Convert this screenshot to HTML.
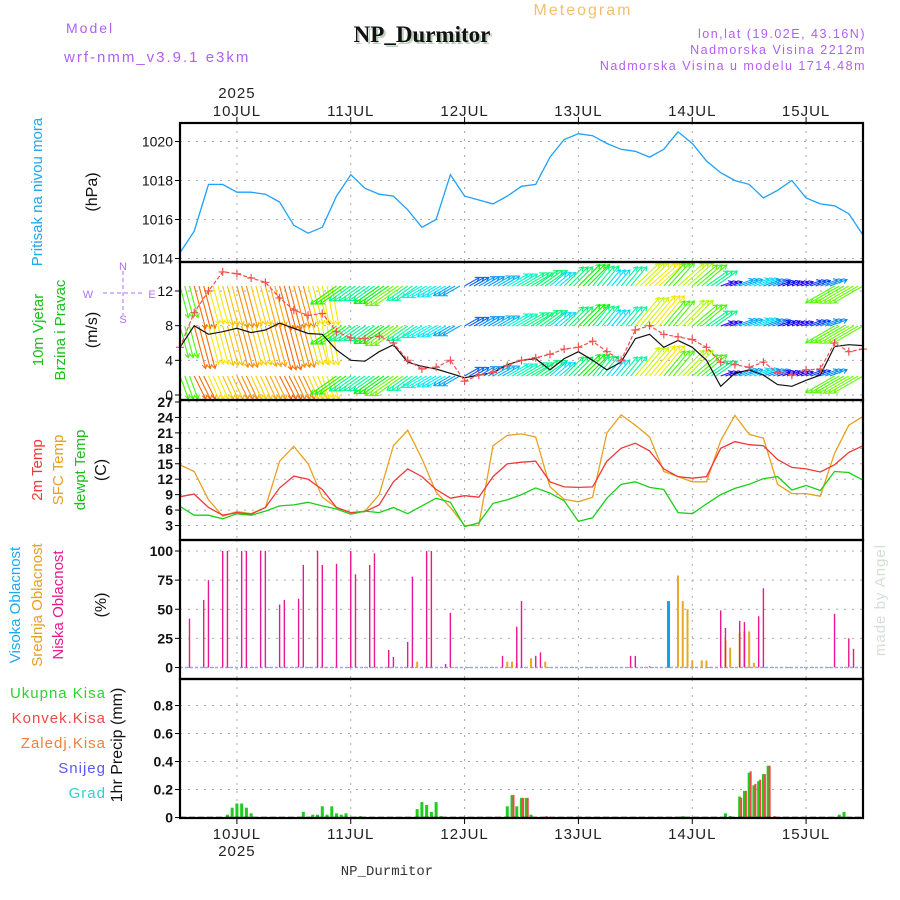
<!DOCTYPE html>
<html><head><meta charset="utf-8"><style>
html,body{margin:0;padding:0;background:#fff}
svg{display:block;font-family:"Liberation Sans",sans-serif}
</style></head><body>
<svg id="c" width="900" height="900" viewBox="0 0 900 900">
<text x="66" y="33" fill="#b060f0" font-size="14" letter-spacing="2">Model</text>
<text x="64" y="62" fill="#b060f0" font-size="15" letter-spacing="2">wrf-nmm_v3.9.1 e3km</text>
<text x="424" y="44" text-anchor="middle" fill="#bcd0bc" font-size="23" font-weight="bold" font-family="Liberation Serif,serif">NP_Durmitor</text>
<text x="422" y="42" text-anchor="middle" fill="#111" font-size="23" font-weight="bold" font-family="Liberation Serif,serif">NP_Durmitor</text>
<text x="583" y="15" text-anchor="middle" fill="#f0c070" font-size="16" letter-spacing="2">Meteogram</text>
<text x="866" y="38" text-anchor="end" fill="#b060f0" font-size="12.5" letter-spacing="1.5">lon,lat (19.02E, 43.16N)</text>
<text x="866" y="54" text-anchor="end" fill="#b060f0" font-size="12.5" letter-spacing="1.5">Nadmorska Visina 2212m</text>
<text x="866" y="70" text-anchor="end" fill="#b060f0" font-size="12.5" letter-spacing="1.5">Nadmorska Visina u modelu 1714.48m</text>
<text x="387" y="875" text-anchor="middle" fill="#333" font-size="14" font-family="Liberation Mono,monospace">NP_Durmitor</text>
<text transform="translate(885,600) rotate(-90)" text-anchor="middle" fill="#d4e0d4" font-size="15" letter-spacing="1">made by Angel</text>
<g id="g"></g>
</svg>
<script>
// ---- data (3-hourly grid starting 9JUL 12UTC) ----
const dayLabels=["10JUL","11JUL","12JUL","13JUL","14JUL","15JUL"];
const pressure=[1014.3,1015.4,1017.8,1017.8,1017.4,1017.4,1017.3,1016.9,1015.7,1015.3,1015.6,1017.2,1018.3,1017.6,1017.3,1017.2,1016.5,1015.6,1016.0,1018.3,1017.2,1017.0,1016.8,1017.2,1017.7,1017.8,1019.2,1020.1,1020.4,1020.3,1019.9,1019.6,1019.5,1019.2,1019.6,1020.5,1019.9,1019.0,1018.4,1018.0,1017.8,1017.1,1017.5,1018.0,1017.1,1016.8,1016.7,1016.3,1015.2];
const windSpeed=[5.5,8.0,7.0,7.3,7.7,7.2,7.5,8.3,7.7,7.1,7.0,5.2,4.0,3.9,5.0,5.8,3.8,3.3,3.0,2.5,2.0,2.3,2.6,3.5,4.0,4.2,2.9,4.2,5.0,4.0,2.9,3.8,6.5,7.0,5.5,6.3,5.5,4.0,1.0,2.5,2.9,2.3,1.2,1.0,1.7,2.3,5.6,5.8,5.7];
const windGust=[5.5,9.5,12,14.2,14,13.5,13,11.2,9.8,9.2,9.4,7.3,6.6,6.5,6.8,6.0,4.0,3.0,3.2,4.0,1.6,2.3,2.6,3.4,4.0,4.3,4.7,5.3,5.5,6.2,5.0,4.0,7.5,8.0,7.0,6.7,6.4,5.5,3.8,3.5,3.2,3.8,2.6,2.3,2.9,3.0,6.0,5.0,5.3];
const windDir=[165,165,165,165,165,165,165,165,165,165,170,235,235,235,235,235,235,240,240,240,60,60,60,60,60,55,50,45,45,40,40,40,40,40,40,45,50,55,70,70,70,70,70,70,70,70,240,240,240];
const temp2m=[8.6,9.1,6.5,5.0,5.5,5.2,6.5,10.3,12.6,12.0,10.0,6.5,5.5,5.7,7.0,11.5,14.0,12.5,10.0,8.3,8.8,8.5,12.5,15.0,15.3,15.5,11.5,10.5,10.4,10.5,15.5,18.0,19.0,17.5,14.0,12.5,12.2,12.5,18.0,19.3,18.7,18.5,15.8,14.3,14.0,13.4,14.8,17.2,18.5];
const tempSfc=[14.8,13.5,8.0,4.8,5.7,5.3,6.5,15.5,18.4,15.0,8.5,6.5,5.5,5.8,9.0,18.5,21.5,16.0,9.5,6.5,3.0,3.0,18.5,20.5,20.8,20.2,10.5,8.1,7.6,8.5,21.0,24.5,22.5,20.2,13.5,12.5,11.5,11.5,19.5,24.4,20.7,20.0,11.0,9.2,9.2,8.7,17.0,22.5,24.2];
const tempDew=[6.7,5.0,5.0,4.3,5.3,5.0,5.8,6.8,7.0,7.5,6.8,6.2,5.2,5.8,5.5,6.5,5.3,6.8,8.3,7.5,2.8,3.5,7.3,8.0,9.0,10.3,9.3,7.8,3.8,4.5,8.3,11.0,11.5,10.4,10.0,5.5,5.3,7.2,9.0,10.2,11.0,12.1,12.5,9.9,10.8,9.8,13.5,13.3,11.8];
const lowHours=[2,5,6,9,10,13,14,17,18,21,22,25,26,29,30,33,36,37,40,41,44,45,48,49,52,53,56,57,68,71,72,75,76,95,96,99,114,115,118,119,122,123,138,141,142];
const lowCloud=[42,58,75,100,100,100,100,100,100,54,58,59,88,100,88,89,100,80,88,98,15,9,22,78,100,100,3,47,10,35,57,10,13,10,10,1,49,34,40,39,44,68,46,25,16];
const midHours=[50,69,70,71,74,77,105,106,107,108,110,111,115,116,118,119,120,121];
const midCloud=[5,5,5,4,8,5,79,57,50,6,6,6,23,17,30,31,31,4];
const highHours=[103];
const highCloud=[57];
const rainHours=[10,11,12,13,14,15,26,28,29,30,31,32,33,34,35,38,50,51,52,53,54,55,69,70,71,72,73,74,106,115,116,118,119,120,121,122,123,124,139,140];
const rainTotal=[.02,.07,.10,.10,.07,.03,.04,.02,.02,.08,.02,.08,.03,.02,.03,.01,.06,.11,.09,.04,.11,.01,.08,.16,.08,.14,.14,.02,.01,.03,.01,.15,.19,.32,.23,.26,.31,.37,.02,.04];
const convHours=[70,72,73,77,118,119,120,121,122,123,124,125];
const convRain=[.16,.14,.14,.01,.14,.19,.33,.24,.27,.31,.37,.01];
const pTicks=[1014,1016,1018,1020];
const wTicks=[0,4,8,12];
const tTicks=[3,6,9,12,15,18,21,24,27];
const cTicks=[0,25,50,75,100];
const rTicks=[0,0.2,0.4,0.6,0.8];

const NS="http://www.w3.org/2000/svg";
const G=document.getElementById('g');
function el(t,a,txt){const e=document.createElementNS(NS,t);for(const k in a)e.setAttribute(k,a[k]);if(txt!==undefined)e.textContent=txt;G.appendChild(e);return e;}
const L=180,R=863,H=144;
const X=h=>L+h*(R-L)/H;
const XI=i=>X(i*3);
function lin(v0,v1,y0,y1){return v=>y0+(v-v0)*(y1-y0)/(v1-v0);}
const panels=[
 {t:123,b:262,y:lin(1014,1020,258.5,141.5),ticks:pTicks,fmt:v=>v},
 {t:262,b:400,y:lin(0,12,395,291),ticks:wTicks,fmt:v=>v},
 {t:400,b:540,y:lin(3,27,525.5,402),ticks:tTicks,fmt:v=>v},
 {t:540,b:679,y:lin(0,100,667.5,551),ticks:cTicks,fmt:v=>v},
 {t:679,b:818,y:lin(0,0.8,817.5,705.5),ticks:rTicks,fmt:v=>v===0?"0":v.toFixed(1)}
];
const pnames=['pressure','wind','temperature','cloud','precip'];
panels.forEach((p,pi)=>{
 for(let d=0;d<6;d++){const x=X(12+24*d);
  const gl=el('line',{x1:x,x2:x,y1:p.t,y2:p.b,stroke:'#aaa','stroke-dasharray':'2,6'});
  
  }
 p.ticks.forEach(v=>{const y=p.y(v);
  const gl=el('line',{x1:L,x2:R,y1:y,y2:y,stroke:'#aaa','stroke-dasharray':'2,6'});
  
  
  const tk=el('line',{x1:L-5,x2:L,y1:y,y2:y,stroke:'#000'});
  
  
  const tl=el('text',{x:L-7,y:y+5,'text-anchor':'end','font-size':14,fill:'#111','font-weight':pi>=2?'bold':'normal'},p.fmt(v));
  
  
 });
});
dayLabels.forEach((lab,d)=>{const x=X(12+24*d);
 const t1=el('line',{x1:x,x2:x,y1:117,y2:123,stroke:'#000'});
 
 
 const a=el('text',{x:x,y:116,'text-anchor':'middle','font-size':15,fill:'#222','letter-spacing':'1'},lab);
 
 
 const t2=el('line',{x1:x,x2:x,y1:818,y2:824,stroke:'#000'});
 
 
 const b=el('text',{x:x,y:839,'text-anchor':'middle','font-size':15,fill:'#222','letter-spacing':'1'},lab);
 
 
});
const y1=el('text',{x:X(12),y:98,'text-anchor':'middle','font-size':15,fill:'#222','letter-spacing':'1'},'2025');


const y2=el('text',{x:X(12),y:856,'text-anchor':'middle','font-size':15,fill:'#222','letter-spacing':'1'},'2025');



function poly(arr,yf,color,name,w){
 const pts=arr.map((v,i)=>XI(i).toFixed(1)+','+yf(v).toFixed(1)).join(' ');
 const e=el('polyline',{points:pts,fill:'none',stroke:color,'stroke-width':w||1.3});
 
 
 return e;
}
poly(pressure,panels[0].y,'#1ea0ff','pressure-line');
// wind arrows
const wy=panels[1].y;
function hue(s){return Math.max(25,Math.min(275,280-s*32));}
const levels=[286,326,376];
windDir.forEach((d,i)=>{
 const s=windSpeed[i];
 levels.forEach((by,li)=>{
  for(let k=0;k<3;k++){
   const h=i*3+k; if(h>H) continue;
   const x=X(h), len=Math.min(46,4.5*s+8), r=d*Math.PI/180;
   let x2=x+len*Math.sin(r), y2=by-len*Math.cos(r);
   x2=Math.min(R,x2); y2=Math.max(263,Math.min(399,y2));
   const c='hsl('+hue(s)+',95%,50%)';
   const ux=Math.sin(r),uy=-Math.cos(r);
   const hx1=x2-4*ux+2.5*uy, hy1=y2-4*uy-2.5*ux, hx2=x2-4*ux-2.5*uy, hy2=y2-4*uy+2.5*ux;
   const a=el('path',{d:`M${x},${by}L${x2},${y2}M${hx1},${hy1}L${x2},${y2}L${hx2},${hy2}`,stroke:c,'stroke-width':1.1,fill:'none'});
   
   
  }
 });
});
poly(windSpeed,wy,'#111','wind-speed-line',1.2);
const gl=poly(windGust,wy,'#f05050','wind-gust-line',1.2);
gl.setAttribute('stroke-dasharray','4,2');
windGust.forEach((v,i)=>{const x=XI(i),y=wy(v);
 const m=el('path',{d:`M${x-4},${y}h8M${x},${y-4}v8`,stroke:'#f05050','stroke-width':1.2});
 
 
});
poly(tempSfc,panels[2].y,'#e8a020','sfc-temp-line');
poly(temp2m,panels[2].y,'#f03838','temp-2m-line');
poly(tempDew,panels[2].y,'#18d018','dewpoint-line');
const cy=panels[3].y;
const base=el('line',{x1:L,x2:R,y1:cy(0),y2:cy(0),stroke:'#9ad','stroke-width':1.5,'stroke-dasharray':'3,2'});


function bars(hours,vals,yf,color,w,dx,name){
 hours.forEach((h,i)=>{const y0=yf(0),y=yf(vals[i]);
  const b=el('rect',{x:X(h)-w/2+dx,y:y,width:w,height:Math.max(0.5,y0-y),fill:color});
  
  });
}
bars(highHours,highCloud,cy,'#1a9cf0',3,0,'high-cloud-bar');
bars(midHours,midCloud,cy,'#e8a828',2,0,'mid-cloud-bar');
bars(lowHours,lowCloud,cy,'#e81890',1.4,0,'low-cloud-bar');
const ry=panels[4].y;
bars(rainHours,rainTotal,ry,'#20cc20',3,0,'total-precip-bar');
bars(convHours,convRain,ry,'#f04848',2,1.5,'convective-precip-bar');
const rb=el('line',{x1:L,x2:R,y1:ry(0),y2:ry(0),stroke:'#222','stroke-width':1.5,'stroke-dasharray':'6,3'});


panels.forEach((p,pi)=>{
 const f=el('rect',{x:L,y:p.t,width:R-L,height:p.b-p.t,fill:'none',stroke:'#000','stroke-width':2.2});
 
 
});
function vt(x,y,txt,color,name,size){
 const e=el('text',{transform:`translate(${x},${y}) rotate(-90)`,'text-anchor':'middle',fill:color,'font-size':size||15},txt);
 
 
}
vt(42,192,'Pritisak na nivou mora','#20a8f0','pressure-title');
vt(97,192,'(hPa)','#111','pressure-unit',16);
vt(43,330,'10m Vjetar','#18c018','wind-title-1');
vt(65,330,'Brzina i Pravac','#18c018','wind-title-2');
vt(97,330,'(m/s)','#111','wind-unit',16);
vt(42,470,'2m Temp','#f03838','temp-2m-title');
vt(63,470,'SFC Temp','#e8a020','temp-sfc-title');
vt(85,470,'dewpt Temp','#18c018','dewpoint-title');
vt(106,470,'(C)','#111','temp-unit',16);
vt(20,605,'Visoka Oblacnost','#20a8f0','high-cloud-title');
vt(42,605,'Srednja Oblacnost','#e8a020','mid-cloud-title');
vt(63,605,'Niska Oblacnost','#e81890','low-cloud-title');
vt(106,605,'(%)','#111','cloud-unit',16);
vt(122,745,'1hr Precip (mm)','#111','precip-unit',16);
const legs=[['Ukupna  Kisa','#30d030',698],['Konvek.Kisa','#f04848',723],['Zaledj.Kisa','#f08040',748],['Snijeg','#5858f0',773],['Grad','#30d0d0',798]];
legs.forEach(l=>{const e=el('text',{x:106,y:l[2],'text-anchor':'end',fill:l[1],'font-size':15,'letter-spacing':'1'},l[0]);
 
 });
const cc='#b070f0';
const comp=el('path',{d:'M123,271v44M103,293h40',stroke:cc,'stroke-dasharray':'4,3',fill:'none'});


[['N',123,270],['S',123,323],['W',88,298],['E',152,298]].forEach(c=>{
 const e=el('text',{x:c[1],y:c[2],'text-anchor':'middle',fill:cc,'font-size':11},c[0]);
 
 });
</script>
</body></html>
